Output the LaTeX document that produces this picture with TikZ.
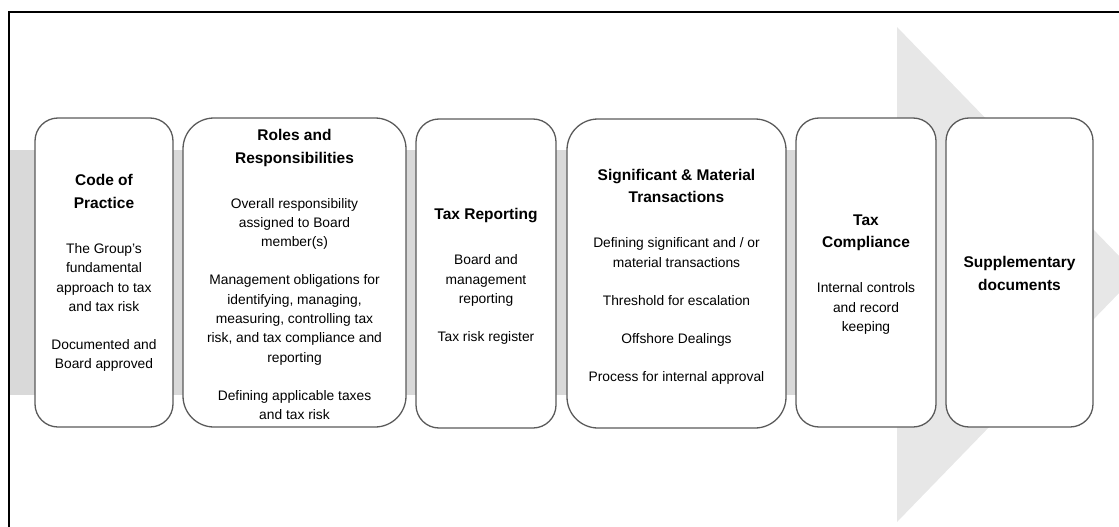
\documentclass[tikz,border=0pt]{standalone}
\usepackage{fontspec}
\setmainfont{Liberation Sans}

\definecolor{bandgray}{HTML}{D9D9D9}
\definecolor{headgray}{HTML}{E7E7E7}
\definecolor{cardline}{HTML}{5A5A5A}

% heading and body text inside a card
\newcommand\cardhead[1]{{\fontsize{15.5pt}{22.7pt}\selectfont\bfseries #1\par}}
\newcommand\cardbody[1]{\vspace{25.7pt}{\fontsize{13.8pt}{19.3pt}\selectfont #1\par}}
\newcommand\paragap{\\[18.7pt]}
\newcommand\cardtext[1]{\begin{minipage}{240pt}\centering #1\end{minipage}}

\begin{document}
\begin{tikzpicture}[x=1pt,y=-1pt,
  card/.style={draw=cardline, line width=1.3pt, fill=white,
    rounded corners=#1, inner sep=0pt, minimum height=309pt},
  card/.default=23pt,
  cardlabel/.style={inner sep=0pt, align=center}]

\useasboundingbox (0,0) rectangle (1119,527);
\clip (0,0) rectangle (1119,527);

% background process arrow
\fill[bandgray] (9,150) rectangle (897,395);
\fill[headgray] (897,27) -- (1137,274.5) -- (897,522) -- cycle;

% outer frame (left and top edges)
\draw[line width=2pt] (9,535) -- (9,12.5) -- (1125,12.5);

% cards
\node[card, minimum width=138pt] (c1) at (104,272.5) {};
\node[card=31pt, minimum width=223pt] (c2) at (294.5,272.5) {};
\node[card, minimum width=140pt] (c3) at (486,273.5) {};
\node[card=31pt, minimum width=219pt] (c4) at (676.5,273.5) {};
\node[card, minimum width=140pt] (c5) at (866,272.5) {};
\node[card, minimum width=147pt] (c6) at (1019.5,272.5) {};

% card texts
\node[cardlabel] (t1) at ([yshift=-0.5pt]c1.center) {\cardtext{%
  \cardhead{Code of\\Practice}%
  \cardbody{The Group’s\\fundamental\\approach to tax\\and tax risk\paragap
    Documented and\\Board approved}}};

\node[cardlabel] (t2) at ([yshift=-2pt]c2.center) {\cardtext{%
  \cardhead{Roles and\\Responsibilities}%
  \cardbody{Overall responsibility\\assigned to Board\\member(s)\paragap
    Management obligations for\\identifying, managing,\\measuring, controlling tax\\risk, and tax compliance and\\reporting\paragap
    Defining applicable taxes\\and tax risk}}};

\node[cardlabel] (t3) at ([yshift=-3pt]c3.center) {\cardtext{%
  \cardhead{Tax Reporting}%
  \cardbody{Board and\\management\\reporting\paragap
    Tax risk register}}};

\node[cardlabel] (t4) at ([yshift=-3pt]c4.center) {\cardtext{%
  \cardhead{Significant \& Material\\Transactions}%
  \cardbody{Defining significant and / or\\material transactions\paragap
    Threshold for escalation\paragap
    Offshore Dealings\paragap
    Process for internal approval}}};

\node[cardlabel] (t5) at ([yshift=-2pt]c5.center) {\cardtext{%
  \cardhead{Tax\\Compliance}%
  \cardbody{Internal controls\\and record\\keeping}}};

\node[cardlabel] (t6) at ([yshift=-1pt]c6.center) {\cardtext{%
  \cardhead{Supplementary\\documents}}};

\end{tikzpicture}
\end{document}
